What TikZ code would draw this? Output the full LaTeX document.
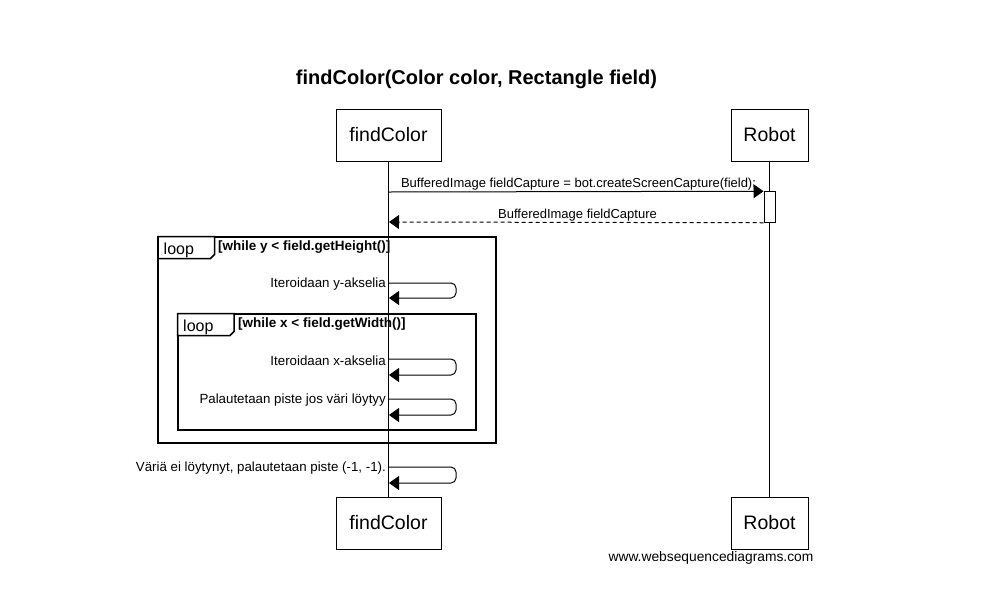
\documentclass[tikz,border=0pt]{standalone}
\usepackage{fontspec}
\setmainfont{Liberation Sans}
\usetikzlibrary{arrows.meta}
\begin{document}
\begin{tikzpicture}[x=1pt,y=-1pt,
  part/.style={draw, line width=1pt, fill=white, minimum height=52pt, inner sep=0pt, font=\fontsize{19.5}{22}\selectfont},
  lbl/.style={inner sep=0pt, font=\fontsize{13}{15}\selectfont},
  selflbl/.style={inner sep=0pt, anchor=east, font=\fontsize{13.3}{15}\selectfont},
  cond/.style={inner sep=0pt, anchor=west, font=\bfseries\fontsize{13.5}{15}\selectfont},
  looptxt/.style={inner sep=0pt, anchor=west, font=\fontsize{16}{18}\selectfont},
  msg/.style={line width=1pt, -{Triangle[length=10pt,width=14pt]}},
  ret/.style={line width=1pt, dash pattern=on 4pt off 3pt, -{Triangle[length=10pt,width=14pt]}},
  selfmsg/.style={line width=1pt, rounded corners=5pt, -{Triangle[length=10pt,width=14pt]}},
  frame/.style={draw, line width=2pt},
  tab/.style={draw, line width=1.5pt, fill=white},
]
\useasboundingbox (0,0) rectangle (998,611);
\fill[white] (0,0) rectangle (998,611);

% title
\node[inner sep=0pt, font=\bfseries\fontsize{20}{23}\selectfont] (title) at (476.5,79) {findColor(Color color, Rectangle field)};

% participants
\node[part, minimum width=105pt] (fcT) at (388.5,135) {findColor};
\node[part, minimum width=77pt] (rbT) at (769.5,135) {Robot};
\node[part, minimum width=105pt] (fcB) at (388.5,523) {findColor};
\node[part, minimum width=77pt] (rbB) at (769.5,523) {Robot};

% lifelines
\draw[line width=1pt] (fcT.south) -- (fcB.north);
\draw[line width=1pt] (rbT.south) -- (rbB.north);

% activation
\node[draw, line width=1pt, fill=white, minimum width=11pt, minimum height=30.5pt, inner sep=0pt] (act) at (769.5,207) {};

% message 1
\coordinate (m1a) at (388.5,192);
\coordinate (m1b) at (act.north west);
\draw[msg] (m1a) -- (m1b);
\node[lbl] (m1l) at (578.5,184) {BufferedImage fieldCapture = bot.createScreenCapture(field);};

% message 2
\coordinate (m2a) at (act.south west);
\coordinate (m2b) at (389,222);
\draw[ret] (m2a) -- (m2b);
\node[lbl] (m2l) at (577.5,215) {BufferedImage fieldCapture};

% outer loop frame
\draw[frame] (158,236.5) rectangle (496,442.5);
\draw[tab] (158,236.5) -- (214.5,236.5) -- (214.5,254.5) -- (210.5,258.5) -- (158,258.5) -- cycle;
\node[looptxt] (loop1) at (163.5,250.5) {loop};
\node[cond] (cond1) at (218,247.5) {[while y < field.getHeight()]};

% self message y
\coordinate (y1) at (388.5,283);
\coordinate (y2) at (456,283);
\coordinate (y3) at (456,298);
\coordinate (y4) at (389,298);
\draw[selfmsg] (y1) -- (y2) -- (y3) -- (y4);
\node[selflbl] (yl) at (386,284.5) {Iteroidaan y-akselia};

% inner loop frame
\draw[frame] (177.5,313.5) rectangle (475.5,430);
\draw[tab] (177.5,313.5) -- (234,313.5) -- (234,331.5) -- (230,335.5) -- (177.5,335.5) -- cycle;
\node[looptxt] (loop2) at (183,327.5) {loop};
\node[cond] (cond2) at (238,324.5) {[while x < field.getWidth()]};

% self message x
\coordinate (x1) at (388.5,359);
\coordinate (x2) at (456,359);
\coordinate (x3) at (456,375);
\coordinate (x4) at (389,375);
\draw[selfmsg] (x1) -- (x2) -- (x3) -- (x4);
\node[selflbl] (xl) at (386,360.5) {Iteroidaan x-akselia};

% self message piste
\coordinate (p1) at (388.5,399);
\coordinate (p2) at (456,399);
\coordinate (p3) at (456,415);
\coordinate (p4) at (389,415);
\draw[selfmsg] (p1) -- (p2) -- (p3) -- (p4);
\node[selflbl] (pl) at (386,400.5) {Palautetaan piste jos väri löytyy};

% self message not found
\coordinate (n1) at (388.5,467);
\coordinate (n2) at (456,467);
\coordinate (n3) at (456,483);
\coordinate (n4) at (389,483);
\draw[selfmsg] (n1) -- (n2) -- (n3) -- (n4);
\node[selflbl] (nl) at (386,468.5) {Väriä ei löytynyt, palautetaan piste (-1, -1).};

% footer
\node[inner sep=0pt, font=\fontsize{13.8}{15}\selectfont] (foot) at (711,558) {www.websequencediagrams.com};
\end{tikzpicture}
\end{document}
